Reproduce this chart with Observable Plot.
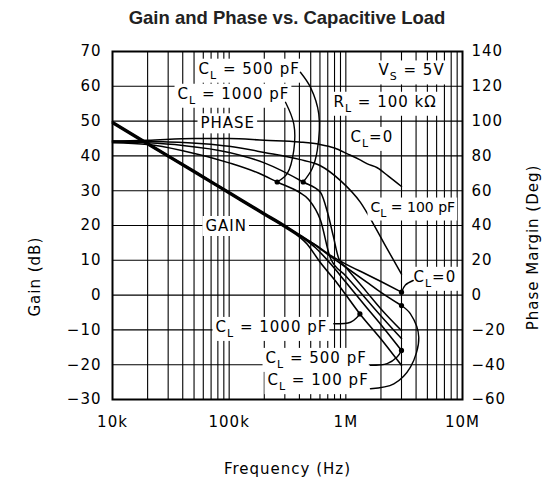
<!DOCTYPE html>
<html><head><meta charset="utf-8">
<script src="https://cdn.jsdelivr.net/npm/d3@7"></script>
<script src="https://cdn.jsdelivr.net/npm/@observablehq/plot@0.6"></script>
<style>
body{margin:0;background:#fff;}
#title{font-family:"Liberation Sans",Arial,sans-serif;font-weight:bold;font-size:18.5px;text-align:center;width:555px;height:36px;line-height:36px;color:#222;box-sizing:border-box;padding-left:19px;}
</style></head><body>
<div id="title">Gain and Phase vs. Capacitive Load</div>
<div id="chart"></div>
<script>
// ---- tick labels ----
const freqTicks = [1e4, 1e5, 1e6, 1e7];
const freqTickLabels = ["10k", "100k", "1M", "10M"];
const gainTicks = [-30, -20, -10, 0, 10, 20, 30, 40, 50, 60, 70];
const phaseTicks = [-60, -40, -20, 0, 20, 40, 60, 80, 100, 120, 140];

// ---- series: [frequency Hz, gain dB] ----
const loads = ["0", "100 pF", "500 pF", "1000 pF"];
const gainCL0 = [[1e4,49.9],[2e4,43.8],[5e4,35.8],[1e5,29.7],[2e5,23.6],[3e5,20.1],[4e5,17.4],[5.5e5,14.4],[7.4e5,11.4],[1e6,8.9],[1.5e6,6.0],[2e6,3.9],[3e6,0.85]];
const gainCL100 = [[1e4,49.7],[2e4,43.6],[5e4,35.6],[1e5,29.5],[2e5,23.4],[3e5,19.9],[4e5,17.2],[5.5e5,14.3],[7.4e5,11.1],[1e6,8.0],[1.5e6,3.8],[2e6,0.8],[3e6,-3.0]];
const gainCL500 = [[1e4,49.5],[2e4,43.4],[5e4,35.4],[1e5,29.3],[2e5,23.2],[3e5,19.7],[4.3e5,16.4],[5.5e5,13.6],[7.4e5,9.0],[1e6,3.7],[1.5e6,-3.5],[2e6,-8.5],[3e6,-15.9]];
const gainCL1000 = [[1e4,49.3],[2e4,43.2],[5e4,35.2],[1e5,29.1],[2e5,23.0],[3e5,19.5],[4.65e5,14.7],[6e5,9.5],[8.4e5,3.5],[1.32e6,-5.4],[2e6,-12.6],[3e6,-20.2]];

// ---- series: [frequency Hz, phase margin deg] ----
const phaseCL0 = [[1e4,88.5],[2e4,89],[5e4,90],[1e5,90],[2e5,89],[4e5,88],[6e5,86.6],[8e5,84.5],[1.03e6,81.2],[1.3e6,78],[1.53e6,75.4],[1.86e6,73.2],[2.3e6,68.5],[3e6,62.4]];
const phaseCL100 = [[1e4,88.5],[3e4,88],[6e4,87],[1e5,85.5],[2e5,82],[4e5,78],[6e5,74.5],[9e5,65.8],[1.33e6,53.4],[1.72e6,41],[2.2e6,28],[3e6,12]];
const phaseCL500 = [[1e4,88],[2e4,87.5],[4e4,86],[1e5,82],[2e5,76],[4.3e5,65],[6.07e5,59],[7e5,47],[7.8e5,34],[8.7e5,21],[1e6,16],[1.5e6,2],[2e6,-8],[3e6,-20.4]];
const phaseCL1000 = [[1e4,87.5],[2e4,86.5],[4e4,83],[1e5,76],[1.8e5,70],[2.58e5,65],[4e5,59],[4.8e5,55],[6.07e5,43],[7.4e5,21],[1e6,11],[1.5e6,-2.4],[2e6,-12],[3e6,-25]];

// ---- marked points ----
const gainDots = [[3e6,0.85],[3e6,-3.0],[3e6,-15.9],[1.32e6,-5.4]];
const phaseDots = [[4.31e5,65],[2.58e5,65]];

// ---- annotations: [text, frequency, gain-axis value] ----
const labels = [
  ["C_L = 500 pF", 5.46e4, 65.0],
  ["C_L = 1000 pF", 3.61e4, 57.8],
  ["PHASE", 5.68e4, 49.3],
  ["GAIN", 6.26e4, 19.8],
  ["V_S = 5V", 1.905e6, 64.5],
  ["R_L = 100 kΩ", 7.84e5, 55.5],
  ["C_L=0", 1.096e6, 45.4],
  ["C_L=0", 3.8e6, 5.2],
  ["C_L = 1000 pF", 7.64e4, -9.2],
  ["C_L = 500 pF", 2.05e5, -18.1],
  ["C_L = 100 pF", 2.13e5, -24.5]
];
const tightLabels = [["C_L = 100 pF", 1.627e6, 25.3]];
// axis titles placed outside the frame: [text, frequency, gain-axis value]
const axisTitles = [["Gain (dB)", 2188, 5.3], ["Phase Margin (Deg)", 4.05e7, 13.7]];
const xTitle = [["Frequency (Hz)", 1e5 * Math.sqrt(10), -50.0]];

// leader lines: [frequency, gain-axis value]
const leaderPhase500 = [[4.08e5,64.05],[4.98e5,59.7],[5.86e5,52.1],[5.69e5,41.6],[5.15e5,36.4],[4.31e5,32.5]];
const leaderPhase1000 = [[3.04e5,55.4],[3.58e5,49.2],[3.58e5,41.6],[3.14e5,34.9],[2.58e5,32.5]];
const leaderGain0 = [[3.78e6,4.2],[3.24e6,2.9],[3e6,0.85]];
const leaderGain1000 = [[7.89e5,-8.25],[1.096e6,-7.8],[1.25e6,-6.35],[1.32e6,-5.4]];
const leaderGain500 = [[1.626e6,-20.2],[2.26e6,-19.7],[2.75e6,-17.8],[3e6,-15.9]];
const leaderGain100 = [[1.626e6,-26.9],[2.58e6,-25.5],[3.58e6,-20.7],[4.22e6,-12.1],[3.58e6,-5.4],[3e6,-3.0]];

// ---- build tables ----
const gainSeries = [gainCL0, gainCL100, gainCL500, gainCL1000];
const phaseSeries = [phaseCL0, phaseCL100, phaseCL500, phaseCL1000];
const gainRows = gainSeries.flatMap((s, i) => s.map(([f, g]) => ({f, g, load: loads[i]})));
const phaseRows = phaseSeries.flatMap((s, i) => s.map(([f, p]) => ({f, p, load: loads[i]})));
const leaders = [leaderPhase500, leaderPhase1000, leaderGain0, leaderGain1000, leaderGain500, leaderGain100];
const leaderRows = leaders.flatMap((s, i) => s.map(([f, g]) => ({f, g, id: i})));
const toRows = arr => arr.map(([text, f, g]) => ({text, f, g}));

const gridFreqs = [];
for (const dec of [1e4, 1e5, 1e6]) for (let m = 1; m <= 9; m++) if (!(dec === 1e4 && m === 1)) gridFreqs.push(m * dec);

const fmtMinus = v => String(v).replace("-", "\u2212");

const chart = Plot.plot({
  width: 555, height: 446,
  marginTop: 15, marginBottom: 83, marginLeft: 112, marginRight: 93,
  x: {type: "log", domain: [1e4, 1e7]},
  y: {domain: [-30, 70]},
  style: {fontFamily: "DejaVu Sans, sans-serif", fontSize: "15px", color: "black", background: "white", letterSpacing: "1px", overflow: "visible"},
  marks: [
    Plot.ruleX(gridFreqs, {stroke: "black", strokeWidth: 1.1}),
    Plot.ruleY(gainTicks, {stroke: "black", strokeWidth: 1.1}),
    Plot.line(gainRows, {x: "f", y: "g", z: "load", stroke: "black", strokeWidth: 1.6, curve: "monotone-x"}),
    Plot.line(phaseRows, {x: "f", y: d => d.p / 2, z: "load", stroke: "black", strokeWidth: 1.5, curve: "monotone-x"}),
    Plot.text(toRows(labels), {x: "f", y: "g", text: "text", textAnchor: "start", fill: "black", fontSize: 15}),
    Plot.text(toRows(tightLabels), {x: "f", y: "g", text: "text", textAnchor: "start", fill: "black", fontSize: 14}),
    Plot.line(leaderRows, {x: "f", y: "g", z: "id", stroke: "black", strokeWidth: 1.4, curve: "catmull-rom"}),
    Plot.dot(gainDots, {x: d => d[0], y: d => d[1], r: 2.6, fill: "black", stroke: "none"}),
    Plot.dot(phaseDots, {x: d => d[0], y: d => d[1] / 2, r: 2.6, fill: "black", stroke: "none"}),
    Plot.frame({stroke: "black", strokeWidth: 2}),
    Plot.axisX(freqTicks, {tickSize: 0, tickPadding: 17, tickFormat: d => freqTickLabels[freqTicks.indexOf(d)], label: null}),
    Plot.axisY(gainTicks, {anchor: "left", tickSize: 0, tickPadding: 11, tickFormat: d => fmtMinus(d), label: null}),
    Plot.axisY(gainTicks, {anchor: "right", tickSize: 0, tickPadding: 9, tickFormat: d => fmtMinus(phaseTicks[gainTicks.indexOf(d)]), label: null}),
    Plot.text(toRows(axisTitles), {x: "f", y: "g", text: "text", rotate: -90, fontSize: 15}),
    Plot.text(toRows(xTitle), {x: "f", y: "g", text: "text", fontSize: 15})
  ]
});
document.getElementById("chart").appendChild(chart);

const ns = "http://www.w3.org/2000/svg";
const annSet = new Set([...labels, ...tightLabels].map(d => d[0]));
chart.querySelectorAll("text").forEach(t => {
  const s = t.textContent;
  const isAnn = annSet.has(s);
  const g = t.parentNode;
  const tight = isAnn && g && g.getAttribute && g.getAttribute("font-size") === "14";
  // subscripts (C_L, R_L, V_S) as real text tspans
  const m = s.match(/^(.*?)_(\w)(.*)$/);
  if (m) {
    t.textContent = "";
    const a = document.createElementNS(ns, "tspan"); a.textContent = m[1];
    const b = document.createElementNS(ns, "tspan"); b.textContent = m[2]; b.setAttribute("dy", "5"); b.setAttribute("font-size", "11");
    const c = document.createElementNS(ns, "tspan"); c.textContent = m[3]; c.setAttribute("dy", "-5");
    t.append(a, b, c);
  }
  if (!isAnn) return;
  if (tight) t.style.letterSpacing = "0px";
  // white label box behind each annotation, as in the original figure
  let bb;
  try { bb = t.getBBox(); } catch (e) { return; }
  const r = document.createElementNS(ns, "rect");
  r.setAttribute("x", bb.x - 3);
  r.setAttribute("y", bb.y - 1);
  r.setAttribute("width", bb.width + 5);
  r.setAttribute("height", bb.height + 2);
  r.setAttribute("fill", "white");
  r.setAttribute("stroke", "none");
  if (t.getAttribute("transform")) r.setAttribute("transform", t.getAttribute("transform"));
  g.insertBefore(r, t);
});
</script></body></html>
